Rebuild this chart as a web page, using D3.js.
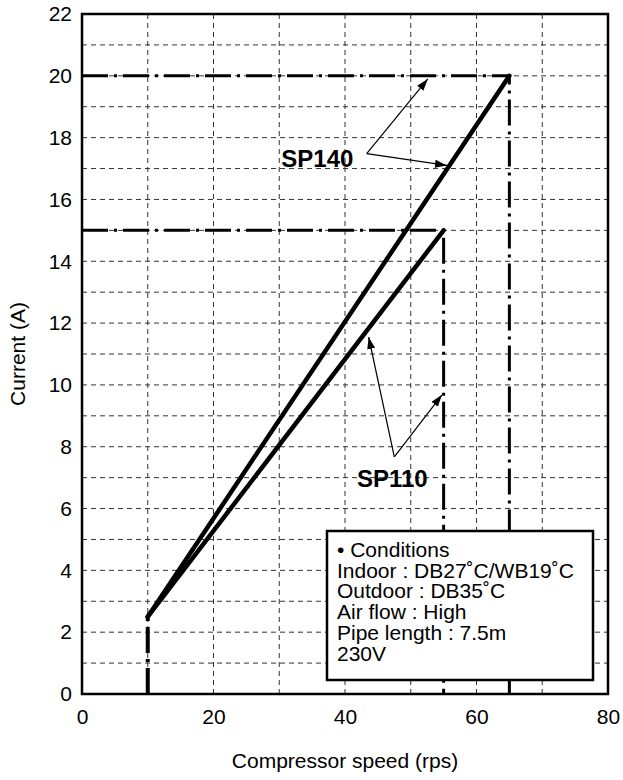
<!DOCTYPE html>
<html>
<head>
<meta charset="utf-8">
<script src="https://d3js.org/d3.v7.min.js"></script>
<style>
  body { margin: 0; background: #fff; }
  svg text { font-family: "Liberation Sans", Arial, sans-serif; fill: #000; }
</style>
</head>
<body>
<div id="chart"></div>
<script>
// data
var xTicks = [0, 20, 40, 60, 80];
var yTicks = [0, 2, 4, 6, 8, 10, 12, 14, 16, 18, 20, 22];
var sp140 = [[10, 2.5], [65, 20]];
var sp110 = [[10, 2.5], [55, 15]];
var startLine = [[10, 0], [10, 2.5]];
var limit140 = [[0, 20], [65, 20], [65, 0]];
var limit110 = [[0, 15], [55, 15], [55, 0]];
var labels = [
  { text: 'SP140', x: 35.8, y: 17.05 },
  { text: 'SP110', x: 47.2, y: 6.7 }
];
// arrows: [from, to]
var arrows = [
  [[43.3, 17.48], [52.6, 19.9]],
  [[43.3, 17.48], [55.5, 17.1]],
  [[47.5, 7.67], [43.6, 11.55]],
  [[47.5, 7.67], [54.75, 9.68]]
];
var conditions = [
  '\u2022 Conditions',
  'Indoor : DB27\u02daC/WB19\u02daC',
  'Outdoor : DB35\u02daC',
  'Air flow : High',
  'Pipe length : 7.5m',
  '230V'
];

var W = 623, H = 780;
var mLeft = 82, mRight = 608, mTop = 14, mBottom = 694;

var svg = d3.select('#chart').append('svg')
  .attr('width', W).attr('height', H);

var x = d3.scaleLinear().domain([0, 80]).range([mLeft, mRight]);
var y = d3.scaleLinear().domain([0, 22]).range([mBottom, mTop]);

// grid
var g = svg.append('g');
g.selectAll('.vg').data(d3.range(10, 80, 10)).enter().append('line')
  .attr('x1', d => x(d)).attr('x2', d => x(d))
  .attr('y1', mTop).attr('y2', mBottom)
  .attr('stroke', '#333').attr('stroke-width', 1)
  .attr('stroke-dasharray', '5,4');
g.selectAll('.hg').data(d3.range(1, 22, 1)).enter().append('line')
  .attr('x1', mLeft).attr('x2', mRight)
  .attr('y1', d => y(d)).attr('y2', d => y(d))
  .attr('stroke', '#333').attr('stroke-width', 1)
  .attr('stroke-dasharray', '5,4');

// dash-dot limit lines
var line = d3.line().x(d => x(d[0])).y(d => y(d[1]));
[limit140, limit110].forEach(function(pts) {
  svg.append('path').attr('d', line(pts))
    .attr('fill', 'none').attr('stroke', '#000').attr('stroke-width', 3)
    .attr('stroke-dasharray', '26,6,3,6');
});
svg.append('path').attr('d', line(startLine))
  .attr('fill', 'none').attr('stroke', '#000').attr('stroke-width', 4)
  .attr('stroke-dasharray', '26,6,3,6');

// main lines
[sp140, sp110].forEach(function(pts) {
  svg.append('path').attr('d', line(pts))
    .attr('fill', 'none').attr('stroke', '#000').attr('stroke-width', 4.5)
    .attr('stroke-linecap', 'round');
});

// frame
svg.append('rect').attr('x', mLeft).attr('y', mTop)
  .attr('width', mRight - mLeft).attr('height', mBottom - mTop)
  .attr('fill', 'none').attr('stroke', '#000').attr('stroke-width', 2.5);

// axes labels
var xAxis = svg.append('g').attr('transform', 'translate(0,' + mBottom + ')')
  .call(d3.axisBottom(x).tickValues(xTicks).tickSize(0).tickPadding(15));
var yAxis = svg.append('g').attr('transform', 'translate(' + mLeft + ',0)')
  .call(d3.axisLeft(y).tickValues(yTicks).tickSize(0).tickPadding(10));
[xAxis, yAxis].forEach(function(a) {
  a.select('.domain').remove();
  a.selectAll('text').style('font-size', '21px').style('font-family', '"Liberation Sans", Arial, sans-serif');
});

svg.append('text').attr('x', 345).attr('y', 768)
  .attr('text-anchor', 'middle').style('font-size', '21px')
  .text('Compressor speed (rps)');
svg.append('text')
  .attr('transform', 'translate(25,' + y(11) + ') rotate(-90)')
  .attr('text-anchor', 'middle').style('font-size', '21px')
  .text('Current (A)');

// arrows
svg.append('defs').append('marker')
  .attr('id', 'head').attr('viewBox', '0 0 12 8')
  .attr('refX', 12).attr('refY', 4)
  .attr('markerWidth', 12).attr('markerHeight', 8)
  .attr('markerUnits', 'userSpaceOnUse')
  .attr('orient', 'auto')
  .append('path').attr('d', 'M0,0 L12,4 L0,8 Z').attr('fill', '#000');
svg.selectAll('.arrow').data(arrows).enter().append('line')
  .attr('x1', d => x(d[0][0])).attr('y1', d => y(d[0][1]))
  .attr('x2', d => x(d[1][0])).attr('y2', d => y(d[1][1]))
  .attr('stroke', '#000').attr('stroke-width', 1.2)
  .attr('marker-end', 'url(#head)');

svg.selectAll('.lab').data(labels).enter().append('text')
  .attr('x', d => x(d.x)).attr('y', d => y(d.y))
  .attr('text-anchor', 'middle')
  .style('font-size', '24px').style('font-weight', 'bold')
  .text(d => d.text);

// conditions box
svg.append('rect').attr('x', 327).attr('y', 531)
  .attr('width', 266).attr('height', 149)
  .attr('fill', '#fff').attr('stroke', '#000').attr('stroke-width', 2.5);
svg.selectAll('.cond').data(conditions).enter().append('text')
  .attr('x', 337).attr('y', (d, i) => 557 + i * 20.7)
  .style('font-size', '21px')
  .text(d => d);
</script>
</body>
</html>
